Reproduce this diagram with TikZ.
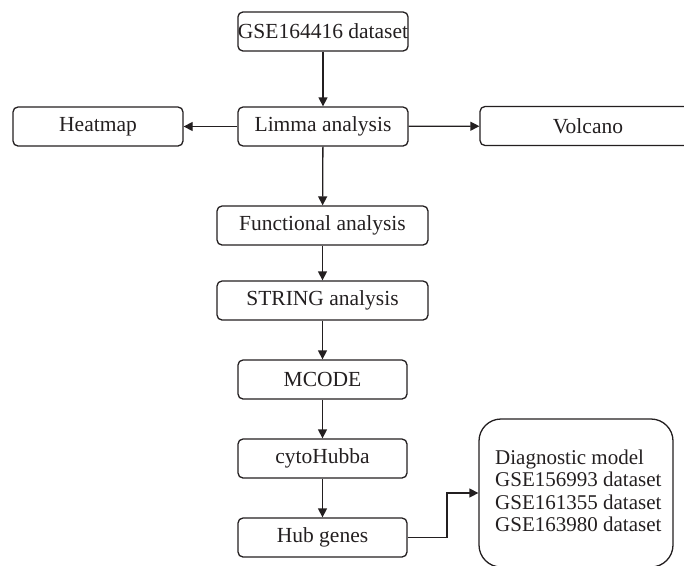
\documentclass[tikz,border=0pt]{standalone}
\usepackage{fontspec}
\setmainfont{Liberation Serif}
\usetikzlibrary{arrows.meta}
\definecolor{ink}{HTML}{231F20}
\begin{document}
\begin{tikzpicture}[x=1pt,y=-1pt,
  box/.style={draw=ink,line width=1.3pt,rounded corners=5pt,inner sep=0pt,
    minimum height=39pt,text=ink,font=\fontsize{21.5}{24}\selectfont},
  conn/.style={draw=ink,line width=1.3pt,-{Triangle[length=9pt,width=9pt]}}]
\useasboundingbox (0,0) rectangle (684,565);
\node[box,minimum width=170pt] (gse) at (323,31.5) {GSE164416 dataset};
\node[box,minimum width=170pt] (limma) at (323,126.5) {Limma analysis};
\node[box,minimum width=170pt] (heat) at (98,126.5) {Heatmap};
\node[box,minimum width=216pt] (volc) at (588,126) {Volcano};
\node[box,minimum width=211pt] (func) at (322.5,225.5) {Functional analysis};
\node[box,minimum width=211pt] (string) at (322.5,300.5) {STRING analysis};
\node[box,minimum width=169pt] (mcode) at (322.5,379.5) {MCODE};
\node[box,minimum width=169pt] (cyto) at (322.5,458.5) {cytoHubba};
\node[box,minimum width=169pt] (hub) at (322.5,537.5) {Hub genes};
\node[draw=ink,line width=1.3pt,rounded corners=22pt,minimum width=194pt,minimum height=148pt,inner sep=0pt] (diag) at (576,493) {};
\node[anchor=west,align=left,inner sep=0pt,text=ink,font=\fontsize{21}{22.5}\selectfont] (diagtext) at (495,491)
  {Diagnostic model\\GSE156993 dataset\\GSE161355 dataset\\GSE163980 dataset};
\draw[conn] (gse) -- (limma);
\draw[conn] (limma) -- (heat);
\draw[conn] (limma) -- (volc);
\draw[conn] (limma) -- (func);
\draw[conn] (func) -- (string);
\draw[conn] (string) -- (mcode);
\draw[conn] (mcode) -- (cyto);
\draw[conn] (cyto) -- (hub);
\coordinate (bend) at (447,537.5);
\draw[conn] (hub.east) -- (bend) |- (diag.west);
\end{tikzpicture}
\end{document}
